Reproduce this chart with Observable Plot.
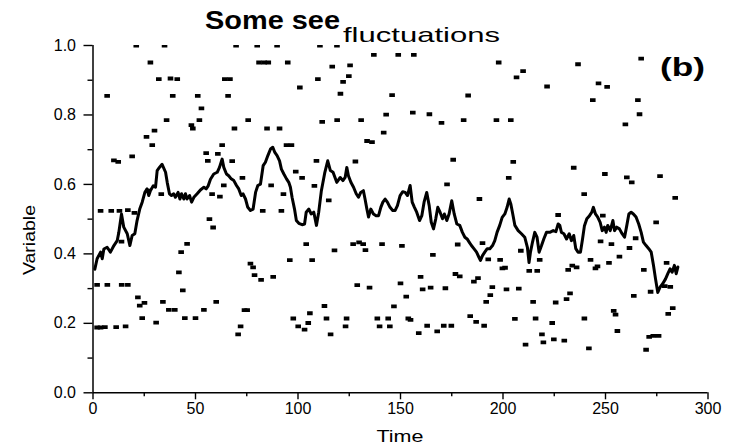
<!DOCTYPE html>
<html><head><meta charset="utf-8">
<script src="https://cdn.jsdelivr.net/npm/d3@7"></script>
<script src="https://cdn.jsdelivr.net/npm/@observablehq/plot@0.6"></script>
<style>
html,body{margin:0;padding:0;background:#fff;}
#chart{position:relative;width:733px;height:447px;}
</style></head><body><div id="chart"></div>
<script>
// ---- data ----
const dotTime = [
 21.1,34.9,69.8,80.1,89.8,110.7,119.0,
 28.0,32.1,37.8,41.1,6.9,38.9,51.1,52.9,35.9,51.9,48.0,48.7,26.1,30.0,28.9,19.1,10.2,12.3,55.2,56.0,
 26.9,33.3,3.7,8.9,12.9,17.0,20.2,56.8,58.6,45.9,43.0,41.9,43.8,13.9,
 2.0,7.0,14.0,17.0,21.9,22.8,25.1,24.0,30.8,34.1,37.0,39.9,44.8,50.0,54.1,60.1,
 2.0,3.7,5.8,11.3,15.9,
 81.0,83.5,85.5,95.0,116.7,64.3,66.8,65.9,100.9,109.7,
 75.7,69.0,84.9,91.0,111.8,119.1,63.0,60.9,94.4,96.8,67.9,109.0,
 72.9,63.8,61.9,58.1,86.9,92.9,98.9,102.0,108.0,115.0,82.8,91.9,
 104.0,96.0,106.9,117.8,76.8,78.1,78.8,82.0,87.9,
 73.9,75.2,72.0,70.8,97.7,100.1,103.2,105.0,105.8,112.9,113.9,115.9,
 137.0,148.9,156.5,125.4,124.8,122.0,120.7,145.9,130.8,143.0,156.0,164.1,170.0,
 133.7,136.1,141.8,128.0,175.7,172.7,
 126.9,129.8,131.8,132.9,141.0,150.7,165.8,177.9,176.8,178.9,
 159.8,128.9,134.9,150.0,160.8,164.7,171.9,152.8,146.8,
 123.7,123.2,138.7,139.8,144.0,144.8,153.8,154.9,158.9,163.0,167.9,171.1,174.8,
 197.9,236.6,206.6,209.8,221.5,183.0,180.8,196.8,203.8,
 205.0,202.8,234.5,188.5,226.9,239.6,
 190.0,192.8,198.6,199.7,201.0,208.7,212.8,216.7,217.9,231.8,233.8,235.9,
 185.8,187.8,194.8,193.8,191.8,201.7,207.7,
 184.0,186.9,190.8,205.8,215.9,214.7,225.7,231.0,232.7,224.0,211.0,219.0,219.7,224.8,229.9,239.7,
 267.4,246.6,250.8,243.8,265.8,266.6,259.7,
 249.7,260.4,262.8,276.6,284.0,248.7,274.7,
 242.7,245.1,246.1,251.7,256.8,247.6,252.9,261.7,264.7,268.7,272.0,263.8,279.8,281.6,278.9,282.8,280.6,
 241.9,254.0,254.9,255.8,269.8,271.3,273.3,275.9
];
const dotValue = [
 1.0,1.0,1.0,1.0,1.0,1.0,1.0,
 .951,.903,.905,.903,.855,.855,.855,.819,.785,.785,.771,.761,.737,.755,.713,.681,.669,.665,.690,.668,
 .582,.572,.524,.524,.524,.526,.518,.500,.476,.429,.405,.347,.295,.435,
 .311,.311,.311,.311,.275,.251,.259,.215,.202,.262,.239,.239,.215,.215,.239,.262,
 .188,.188,.189,.189,.191,
 .951,.951,.951,.951,.939,.903,.903,.855,.879,.903,
 .785,.761,.761,.761,.780,.785,.713,.688,.713,.713,.667,.668,
 .619,.597,.565,.572,.597,.572,.637,.619,.596,.554,.524,.524,
 .428,.382,.382,.410,.372,.361,.339,.325,.334,
 .238,.238,.191,.168,.214,.191,.182,.201,.229,.250,.214,.168,
 .973,.973,.973,.943,.912,.895,.861,.857,.785,.801,.807,.802,.777,
 .725,.722,.749,.666,.671,.600,
 .428,.433,.428,.411,.428,.423,.397,.427,.342,.335,
 .334,.310,.303,.315,.298,.303,.301,.277,.249,
 .214,.191,.214,.191,.214,.191,.214,.210,.172,.193,.177,.193,.193,
 .951,.946,.908,.926,.882,.856,.785,.785,.785,
 .665,.619,.648,.558,.512,.572,
 .431,.384,.383,.358,.360,.409,.351,.351,.383,.354,.366,.361,
 .320,.330,.304,.281,.262,.298,.300,
 .221,.204,.193,.213,.214,.262,.260,.270,.286,.201,.139,.168,.145,.154,.150,.214,
 .962,.891,.881,.843,.843,.802,.773,
 .630,.620,.606,.624,.561,.510,.491,
 .383,.358,.364,.374,.392,.436,.428,.417,.445,.354,.291,.279,.374,.305,.307,.244,.227,
 .128,.236,.225,.178,.124,.161,.164,.164
];
const lineTime = [
 0.9,2.0,3.7,4.5,5.3,6.9,8.5,10.2,11.8,12.6,13.9,15.0,16.7,18.0,19.1,20.4,21.5,22.8,24.0,25.3,
 26.4,27.2,28.0,29.4,30.5,31.3,32.4,33.7,35.4,36.2,37.3,38.3,39.4,40.2,41.5,42.4,43.2,44.3,45.1,45.9,
 47.1,48.1,49.2,50.8,52.4,54.1,55.2,56.2,57.3,58.9,60.6,61.7,63.0,63.8,65.1,66.2,67.4,68.7,70.0,71.1,
 72.3,73.2,74.4,75.5,76.8,78.1,79.3,80.4,81.7,83.0,84.1,85.3,86.6,87.7,88.7,89.8,91.0,91.9,93.1,94.4,
 95.5,96.3,97.1,98.3,99.2,100.4,102.0,103.2,104.0,105.3,106.4,107.7,109.0,110.1,111.4,113.1,114.5,115.8,117.1,118.9,
 120.6,121.9,123.0,123.8,124.6,125.8,127.1,128.4,129.5,130.6,131.9,132.7,133.6,134.4,135.5,136.8,138.1,139.3,140.4,141.4,
 142.5,143.6,144.9,146.2,147.4,148.5,149.8,151.1,152.3,153.4,154.7,155.7,156.8,157.9,159.3,160.4,161.5,162.8,164.0,165.0,
 166.1,167.2,168.2,169.3,170.5,171.4,172.6,173.7,175.0,176.2,177.5,178.9,180.2,181.4,182.5,183.5,184.6,185.8,187.1,188.2,
 189.0,190.0,191.1,192.3,193.6,194.9,196.0,197.1,198.4,199.6,200.9,202.0,203.0,203.8,204.6,205.8,207.4,209.0,210.6,211.9,
 212.7,213.4,214.4,215.5,216.6,217.6,218.8,219.9,221.2,222.8,224.5,225.8,226.9,227.7,228.5,229.7,231.0,232.3,233.4,234.5,
 235.5,236.6,237.8,238.8,239.7,240.9,242.2,243.3,244.1,245.1,246.2,247.4,248.4,249.5,250.3,251.1,252.3,253.6,254.4,255.5,
 256.8,258.1,259.3,260.4,261.4,262.5,263.6,264.9,266.2,267.4,268.5,269.8,271.1,272.3,273.4,274.4,275.5,276.6,277.9,279.3,
 280.4,281.5,282.5,283.6,284.5,285.3
];
const lineValue = [
 .356,.386,.405,.386,.414,.419,.405,.424,.438,.462,.515,.477,.458,.424,.453,.458,.496,.529,.549,.577,
 .587,.568,.582,.596,.592,.640,.649,.658,.635,.606,.573,.568,.573,.563,.577,.558,.573,.558,.573,.558,
 .568,.549,.563,.573,.584,.592,.587,.596,.615,.630,.635,.649,.673,.649,.630,.625,.616,.611,.597,.587,
 .568,.573,.558,.534,.525,.529,.577,.597,.601,.654,.664,.683,.702,.707,.692,.683,.668,.644,.630,.616,
 .606,.592,.563,.529,.496,.488,.484,.486,.520,.529,.515,.520,.482,.520,.582,.635,.668,.640,.635,.606,
 .620,.611,.620,.649,.625,.606,.592,.573,.563,.577,.582,.558,.529,.506,.529,.515,.510,.510,.534,.549,
 .558,.549,.534,.525,.525,.539,.568,.579,.577,.568,.597,.549,.534,.520,.496,.510,.549,.577,.539,.491,
 .472,.501,.534,.520,.501,.515,.496,.515,.553,.515,.486,.482,.462,.448,.443,.434,.424,.415,.405,.391,
 .381,.395,.405,.415,.415,.424,.438,.462,.482,.505,.515,.534,.558,.544,.520,.482,.467,.458,.448,.419,
 .375,.405,.434,.462,.448,.405,.424,.443,.462,.462,.467,.464,.486,.482,.462,.458,.443,.458,.438,.453,
 .415,.405,.405,.443,.480,.501,.510,.520,.534,.515,.506,.491,.467,.477,.462,.482,.467,.496,.467,.477,
 .472,.458,.448,.482,.515,.520,.515,.506,.486,.462,.434,.424,.415,.405,.367,.328,.289,.304,.314,.328,
 .343,.357,.347,.367,.343,.362
];
const xTicks = [0, 50, 100, 150, 200, 250, 300];
const xMinorTicks = [25, 75, 125, 175, 225, 275];
const yTicks = [0, 0.2, 0.4, 0.6, 0.8, 1.0];
const yMinorTicks = [0.1, 0.3, 0.5, 0.7, 0.9];
const titleMain = "Some see";
const titleSub = "fluctuations";
const panelLabel = "(b)";
const xLabel = "Time";
const yLabel = "Variable";

// ---- build tables ----
const dots = dotTime.map((t, i) => ({t, v: dotValue[i]}));
const series = lineTime.map((t, i) => ({t, v: lineValue[i]}));

const rectSymbol = {
  draw(ctx) {
    ctx.moveTo(-2.8, -1.9); ctx.lineTo(2.8, -1.9); ctx.lineTo(2.8, 1.9); ctx.lineTo(-2.8, 1.9); ctx.closePath();
  }
};

const FONT = "'Liberation Sans', Arial, sans-serif";

const chart = Plot.plot({
  width: 733,
  height: 447,
  marginLeft: 92.5,
  marginRight: 25.5,
  marginTop: 45,
  marginBottom: 54.7,
  style: {fontFamily: FONT, fontSize: "16px", color: "black", background: "white"},
  x: {domain: [0, 300], label: null},
  y: {domain: [0, 1], label: null},
  marks: [
    Plot.axisY({ticks: yTicks, tickSize: 9, tickPadding: 8, tickFormat: d => d.toFixed(1), fontSize: 16, strokeWidth: 1.4, label: null}),
    Plot.axisY({ticks: yMinorTicks, tickSize: 5, tickFormat: () => "", strokeWidth: 1.4, label: null}),
    Plot.axisX({ticks: xTicks, tickSize: 7, tickPadding: 3, tickFormat: d => String(d), fontSize: 16, strokeWidth: 1.4, label: null}),
    Plot.axisX({ticks: xMinorTicks, tickSize: 4, tickFormat: () => "", strokeWidth: 1.4, label: null}),
    Plot.ruleX([0], {y1: 0, y2: 1, stroke: "black", strokeWidth: 1.5}),
    Plot.ruleY([0], {x1: 0, x2: 300, stroke: "black", strokeWidth: 1.5}),
    Plot.dot(dots, {x: "t", y: "v", symbol: rectSymbol, fill: "black", stroke: "none", clip: true}),
    Plot.line(series, {x: "t", y: "v", stroke: "black", strokeWidth: 3, strokeLinejoin: "round", curve: "linear"})
  ]
});

document.getElementById("chart").appendChild(chart);

// ---- text labels ----
const svg = d3.select(chart);
function addText(str, x, y, size, weight, len, anchor, rotate) {
  const t = svg.append("text")
    .attr("x", x).attr("y", y)
    .attr("text-anchor", anchor)
    .attr("font-family", FONT)
    .attr("font-size", size)
    .attr("font-weight", weight)
    .attr("fill", "black")
    .text(str);
  if (len) t.attr("textLength", len).attr("lengthAdjust", "spacingAndGlyphs");
  if (rotate) t.attr("transform", `rotate(-90 ${x} ${y})`);
  return t;
}
addText(titleMain, 205, 29, 25, "bold", 135, "start");
addText(titleSub, 343, 42, 21, "normal", 157, "start");
addText(panelLabel, 660, 76, 26, "bold", 45, "start");
addText(xLabel, 400, 442, 17, "normal", 47, "middle");
addText(yLabel, 35, 240, 16, "normal", 70, "middle", true);
</script>
</body></html>
